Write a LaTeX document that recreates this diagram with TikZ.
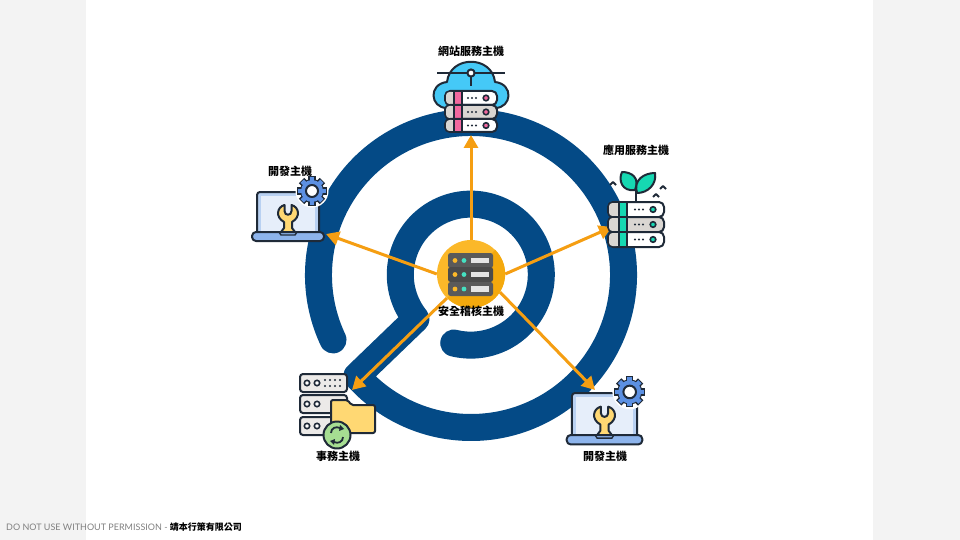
\documentclass[tikz,border=0pt]{standalone}
\usepackage{fontspec}
\setmainfont{Lato}
\newfontfamily\cjk{Noto Sans CJK TC}
\usetikzlibrary{arrows.meta,positioning}

\definecolor{sidegrey}{HTML}{F3F3F3}
\definecolor{ringblue}{HTML}{044A86}
\definecolor{arroworange}{HTML}{F59E12}
\definecolor{iconink}{HTML}{1F2A38}
\definecolor{rackgrey}{HTML}{DAD6D2}
\definecolor{cloudblue}{HTML}{45C9F7}
\definecolor{pinkstripe}{HTML}{F2689E}
\definecolor{tealstripe}{HTML}{16D8B2}
\definecolor{goldcircle}{HTML}{FBB829}
\definecolor{golddark}{HTML}{F4A90D}
\definecolor{folderyellow}{HTML}{FFD873}
\definecolor{swapgreen}{HTML}{A6DE92}
\definecolor{screenblue}{HTML}{E6EEFA}
\definecolor{frameblue}{HTML}{B9D1F2}
\definecolor{baseblue}{HTML}{8DB4EC}
\definecolor{gearblue}{HTML}{5C90E2}

% one unit of a server rack: x1, y1, x2, y2, stripe colour, stripe x, body colour
\newcommand{\rackrow}[7]{
  \draw[iconline, fill=#7, rounded corners=5] (#1,#2) rectangle (#3,#4);
  \fill[rackgrey, rounded corners=3.5] (#1+1,#2+1) rectangle (#6+1,#4-1);
  \draw[iconline, fill=#5] (#6,#2) rectangle (#6+8,#4);
  \foreach \i in {0,1,2} \fill[iconink] (#3-29+\i*4,{(#2+#4)/2}) circle (1.1);
  \draw[iconink, line width=1.6pt, fill=#5] (#3-11,{(#2+#4)/2}) circle (2.8);
}

\tikzset{
  iconline/.style={draw=iconink, line width=2pt, line join=round},
  hostname/.style={font=\cjk\bfseries\fontsize{11}{12}\selectfont, inner sep=0pt},
  iconspot/.style={inner sep=0pt, outer sep=0pt, minimum width=#1},
  iconspot/.default=60pt,
  flow/.style={draw=arroworange, line width=3pt, -{Triangle[length=13pt,width=14pt]}},
  pics/laptop/.style={code={
    \draw[iconline, fill=frameblue, rounded corners=3] (-31,0) -- (-31,-40) -- (31,-40) -- (31,0);
    \fill[screenblue] (-27,-1) rectangle (27,-36);
    \draw[iconline, fill=folderyellow] (-3.5,-27) -- (-3.5,-21) .. controls (-3.5,-16) and (3.5,-16) .. (3.5,-21) -- (3.5,-27)
      .. controls (11,-25) and (13,-15) .. (4,-10) -- (4,-4) -- (7,0) -- (-7,0) -- (-4,-4) -- (-4,-10)
      .. controls (-13,-15) and (-11,-25) .. cycle;
    \draw[iconline, fill=baseblue, rounded corners=4] (-36,0) rectangle (36,9);
    \draw[iconink, line width=1.4pt] (-9,0) -- (-7,3) -- (7,3) -- (9,0);
    \fill[white] (24,-41) circle (16.5);
    \foreach \a in {0,45,...,315} \draw[iconink, line width=7.5pt] (24,-41) -- +(\a:14.8);
    \fill[iconink] (24,-41) circle (12);
    \foreach \a in {0,45,...,315} \draw[gearblue, line width=4.6pt] (24,-41) -- +(\a:13.8);
    \fill[gearblue] (24,-41) circle (11);
    \draw[iconline, fill=white] (24,-41) circle (6);
  }}
}

\begin{document}
\begin{tikzpicture}[x=1pt, y=-1pt]
  % Page
  \fill[sidegrey] (0,0) rectangle (960,540);
  \fill[white] (86,0) rectangle (873,540);

  % Spiral
  \draw[ringblue, line width=27pt, line cap=round, line join=round]
    (471,275) ++(154.8:152.5) arc[start angle=154.8, end angle=498.5, radius=152.5]
    -- (416,319) arc[start angle=141, end angle=464, radius=70.5];

  % Places of the hosts
  \node[circle, fill=goldcircle, minimum size=68pt, inner sep=0pt] (secure) at (471,274) {};
  \node[iconspot=76pt, minimum height=76pt] (web) at (471,97) {};
  \node[iconspot=56pt, minimum height=90pt] (app) at (636,203) {};
  \node[iconspot=74pt, minimum height=60pt] (devleft) at (290,210) {};
  \node[iconspot=76pt, minimum height=80pt] (office) at (338,408) {};
  \node[iconspot=76pt, minimum height=60pt] (devright) at (605,418) {};

  % Arrow ends
  \coordinate (webtip) at (web.south);
  \coordinate (apptip) at (612,227);
  \coordinate (devlefttip) at (326,234);
  \coordinate (officetip) at (352,390);
  \coordinate (devrighttip) at (595,390);

  % Arrows
  \path[flow] (secure.north) -- (webtip);
  \path[flow] (secure.east) -- (apptip);
  \path[flow] (secure.west) -- (devlefttip);
  \path[flow] (secure.225) -- (officetip);
  \path[flow] (secure.-32) -- (devrighttip);

  % Web host
  \draw[iconline, fill=cloudblue] (447,108) .. controls (430,108) and (428,84) .. (447,82)
    .. controls (450,55) and (492,55) .. (495,82) .. controls (514,84) and (512,108) .. (495,108) -- cycle;
  \draw[iconline] (437,73) -- (505,73) (471,73) -- (471,86);
  \draw[iconline, fill=white] (471,73) circle (3.6);
  \rackrow{445}{91}{497}{105}{pinkstripe}{454}{white}
  \rackrow{445}{105}{497}{119}{pinkstripe}{454}{rackgrey}
  \rackrow{445}{119}{497}{132}{pinkstripe}{454}{white}

  % App host
  \draw[iconline] (636,201) -- (636,186);
  \draw[iconline, fill=tealstripe] (635,190) .. controls (622,192) and (618,180) .. (622,172)
    .. controls (632,172) and (640,178) .. (635,190);
  \draw[iconline, fill=tealstripe] (637,193) .. controls (633,180) and (644,173) .. (655,173)
    .. controls (657,184) and (648,193) .. (637,193);
  \draw[iconline] (610,185) -- (613,182) -- (616,185) (660,189) -- (663,186) -- (666,189) (653,197) -- (656,194) -- (659,197);
  \rackrow{608}{202}{664}{217}{tealstripe}{619}{white}
  \rackrow{608}{217}{664}{232}{tealstripe}{619}{rackgrey}
  \rackrow{608}{232}{664}{247}{tealstripe}{619}{white}

  % Dev hosts
  \pic at (288,232) {laptop};
  \pic[scale=1.05] at (604.5,435) {laptop};

  % Office host
  \foreach \y/\h in {374/392,395/413,417/435} {
    \draw[iconline, fill=rackgrey!50!white, rounded corners=3] (300,\y) rectangle (347,\h);
    \foreach \x in {307,317} \draw[iconink, line width=1.6pt, fill=white] (\x,{(\y+\h)/2}) circle (2.7);
  }
  \foreach \x in {325,330,335,340} \foreach \y in {380,386} \fill[iconink] (\x,\y) circle (1.2);
  \draw[iconline, fill=folderyellow, rounded corners=2] (331,433) -- (331,400) -- (348,400) -- (351,405) -- (375,405) -- (375,433) -- cycle;
  \draw[iconline, fill=swapgreen] (337,435) circle (13.5);
  \draw[iconink, line width=1.8pt] (331,433) .. controls (331,428) and (336,426) .. (340,428) (343,437) .. controls (343,442) and (338,444) .. (334,442);
  \fill[iconink] (340,425) -- (344,429) -- (339,431) -- cycle (334,445) -- (330,441) -- (335,439) -- cycle;

  % Secure host
  \fill[golddark] (secure.45) arc[start angle=-45, end angle=135, radius=34] -- cycle;
  \foreach \y/\h/\shade in {253/268/5A5A5A,267/282/4B4B4B,282/296/5A5A5A} {
    \definecolor{rowgrey}{HTML}{\shade}
    \fill[rowgrey, rounded corners=2.5] (448,\y) rectangle (493,\h);
    \fill[goldcircle] (455,{(\y+\h)/2}) circle (2.4);
    \fill[tealstripe!80!white] (464,{(\y+\h)/2}) circle (2.4);
    \fill[white!90!black] (471,{(\y+\h)/2-2.8}) rectangle (489,{(\y+\h)/2+2.8});
  }

  % Labels
  \node[hostname, above=2pt of web] (webname) {網站服務主機};
  \node[hostname, above=2pt of app] (appname) {應用服務主機};
  \node[hostname, above=3pt of devleft] (devleftname) {開發主機};
  \node[hostname, below=3pt of office] (officename) {事務主機};
  \node[hostname, below=3pt of devright] (devrightname) {開發主機};
  \node[hostname, below=-2pt of secure] (securename) {安全稽核主機};

  % Footer
  \node[anchor=west, inner sep=0pt, text=black!50, font=\fontsize{9}{11}\selectfont] (notice) at (6,527)
    {DO NOT USE WITHOUT PERMISSION - {\cjk\bfseries\color{black}靖本行策有限公司}};
\end{tikzpicture}
\end{document}
